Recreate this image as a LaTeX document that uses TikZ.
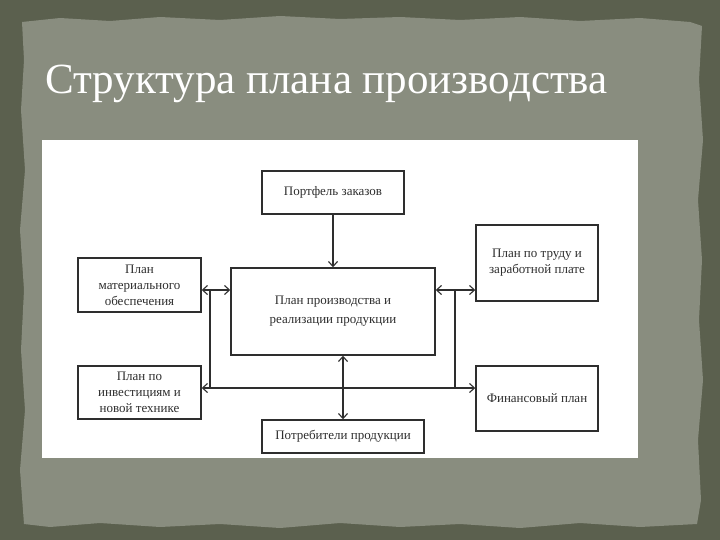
\documentclass[tikz,border=0pt]{standalone}
\usepackage{fontspec}
\setmainfont{Liberation Serif}
\usetikzlibrary{arrows.meta}
\definecolor{bgdark}{HTML}{5B604E}
\definecolor{panel}{HTML}{898D7F}
\definecolor{ink}{HTML}{2E2E2E}
\tikzset{
  box/.style={draw=ink, line width=1.4pt, fill=white, align=center, inner sep=2pt,
    font=\fontsize{13}{16}\selectfont, text=ink},
  conn/.style={draw=ink, line width=1.1pt},
  arr/.style={conn, -{Straight Barb[length=5pt,width=9pt]}},
  darr/.style={conn, {Straight Barb[length=5pt,width=9pt]}-{Straight Barb[length=5pt,width=9pt]}},
}
\begin{document}
\begin{tikzpicture}[x=1pt,y=-1pt]
\useasboundingbox (0,0) rectangle (720,540);
\fill[bgdark] (0,0) rectangle (720,540);
\fill[panel] (22,22) -- (60,18) -- (110,21) -- (160,17) -- (220,20) -- (280,16) -- (340,19) -- (400,17) -- (460,20) -- (520,17) -- (580,21) -- (640,18) -- (690,22) -- (702,26)
 -- (699,80) -- (703,140) -- (698,200) -- (702,260) -- (699,320) -- (703,380) -- (698,440) -- (701,500) -- (697,524)
 -- (640,527) -- (580,523) -- (520,528) -- (460,524) -- (400,527) -- (340,523) -- (280,528) -- (220,524) -- (160,527) -- (100,523) -- (50,527) -- (24,524)
 -- (20,470) -- (25,410) -- (21,350) -- (24,290) -- (20,230) -- (25,170) -- (21,110) -- (24,60) -- cycle;
\node[anchor=base west, text=white, font=\fontsize{43}{46}\selectfont, inner sep=0pt] (title) at (45,94) {Структура плана производства};
\fill[white] (42,140) rectangle (638,458);

\node[box, minimum width=142pt, minimum height=43pt] (port) at (333,192.5) {Портфель заказов};
\node[box, minimum width=123pt, minimum height=54pt] (mat) at (139.5,285) {План\\материального\\обеспечения};
\node[box, minimum width=204pt, minimum height=87pt, font=\fontsize{13}{19}\selectfont] (cen) at (333,311.5) {План производства и\\реализации продукции};
\node[box, minimum width=122pt, minimum height=76pt] (lab) at (537,263) {План по труду и\\заработной плате};
\node[box, minimum width=123pt, minimum height=53pt] (inv) at (139.5,392.5) {План по\\инвестициям и\\новой технике};
\node[box, minimum width=162pt, minimum height=33pt] (cons) at (343,436.5) {Потребители продукции};
\node[box, minimum width=122pt, minimum height=65pt] (fin) at (537,398.5) {Финансовый план};

\coordinate (r1) at (0,290);
\coordinate (r2) at (0,388);
\coordinate (jl) at (210,290);
\coordinate (jr) at (455,290);
\coordinate (bl) at (210,388);
\coordinate (br) at (455,388);

\draw[arr] (port.south) -- (cen.north);
\draw[darr] (mat.east |- r1) -- (cen.west |- r1);
\draw[darr] (cen.east |- r1) -- (lab.west |- r1);
\draw[darr] (cen.south -| cons.north) -- (cons.north);
\draw[conn] (jl) -- (bl);
\draw[conn] (jr) -- (br);
\draw[arr] (bl) -- (inv.east |- r2);
\draw[arr] (bl) -- (fin.west |- r2);
\end{tikzpicture}
\end{document}
